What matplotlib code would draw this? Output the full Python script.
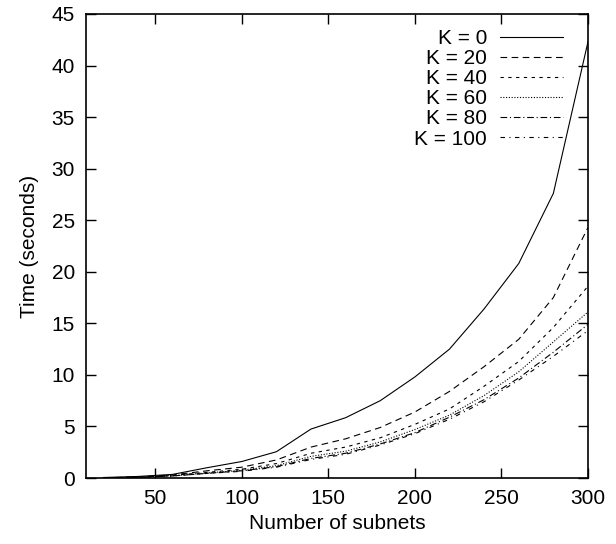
import numpy as np
import matplotlib.pyplot as plt

plt.rcParams['font.family'] = ['Liberation Sans', 'DejaVu Sans']

# Anzahl Subnetze
subnets = [20, 40, 60, 80, 100, 120, 140, 160, 180, 200, 220, 240, 260, 280, 300]

# Zeiten (Sekunden) je K
k0 = [0.05, 0.15, 0.35, 1.0, 1.6, 2.55, 4.75, 5.85, 7.5, 9.8, 12.5, 16.4, 20.8, 27.6, 42.3]
k20 = [0.02, 0.1, 0.3, 0.7, 1.05, 1.75, 3.0, 3.8, 4.9, 6.4, 8.4, 10.8, 13.45, 17.5, 24.3]
k40 = [0.02, 0.08, 0.25, 0.55, 0.85, 1.4, 2.4, 3.0, 3.9, 5.2, 6.7, 8.9, 11.3, 14.6, 18.6]
k60 = [0.02, 0.07, 0.22, 0.5, 0.75, 1.2, 2.1, 2.6, 3.5, 4.7, 6.1, 8.0, 10.3, 13.2, 16.1]
k80 = [0.02, 0.06, 0.2, 0.45, 0.7, 1.1, 1.9, 2.4, 3.3, 4.4, 5.9, 7.6, 9.7, 12.2, 14.9]
k100 = [0.02, 0.06, 0.2, 0.45, 0.65, 1.05, 1.8, 2.3, 3.2, 4.3, 5.7, 7.4, 9.5, 11.8, 14.3]

labels = ['K = 0', 'K = 20', 'K = 40', 'K = 60', 'K = 80', 'K = 100']
series = [k0, k20, k40, k60, k80, k100]
styles = ['-', (0, (6, 4)), (0, (3, 4)), (0, (1, 1.5)), (0, (6, 2.5, 1, 2.5)), (0, (4, 4, 1, 4))]

fig = plt.figure(figsize=(6.16, 5.44), dpi=100)
ax = fig.add_axes([0.1396, 0.1213, 0.8149, 0.853])

for lab, ys, ls in zip(labels, series, styles):
    ax.plot(subnets, ys, color='black', linewidth=0.8, linestyle=ls, label=lab)

ax.set_xlim(10, 300)
ax.set_ylim(0, 45)
ax.set_xticks([50, 100, 150, 200, 250, 300])
ax.set_yticks(np.arange(0, 46, 5))
ax.tick_params(direction='in', length=7, width=1, top=True, right=True, labelsize=15, pad=8)
for s in ax.spines.values():
    s.set_linewidth(1.2)

ax.set_xlabel('Number of subnets', fontsize=15, labelpad=4)
ax.set_ylabel('Time (seconds)', fontsize=15, labelpad=9)

ax.legend(loc='upper right', bbox_to_anchor=(0.95, 0.967), frameon=False,
          markerfirst=False, fontsize=15, handlelength=3.0, handletextpad=0.63,
          labelspacing=0.05, borderpad=0, borderaxespad=0)

plt.savefig('out.png', dpi=100)
